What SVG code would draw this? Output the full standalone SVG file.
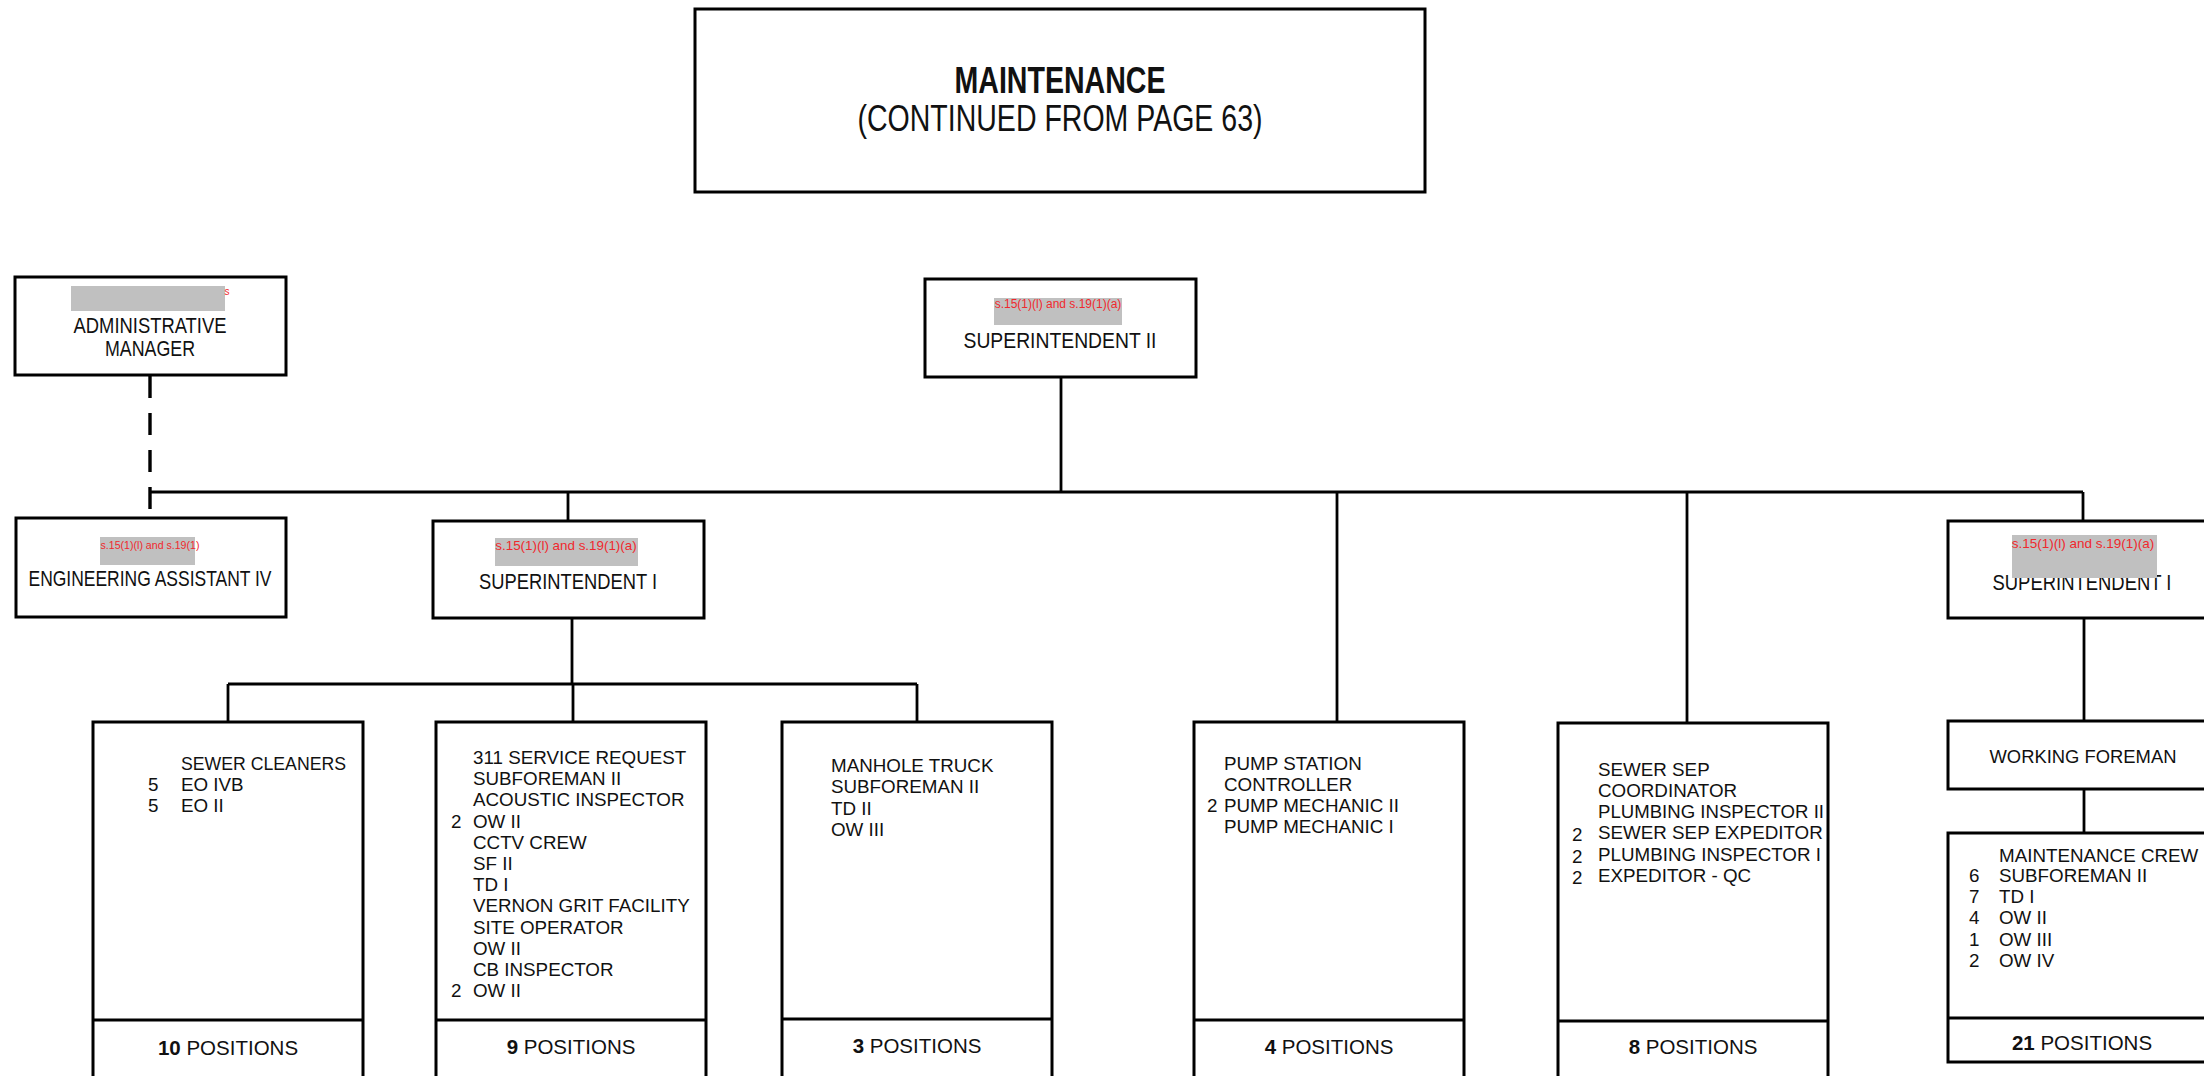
<svg xmlns="http://www.w3.org/2000/svg" width="2204" height="1076" viewBox="0 0 2204 1076">
<style>
.box{fill:#fff;stroke:#000;stroke-width:3}
.ln{fill:none;stroke:#000;stroke-width:2.8}
.dash{fill:none;stroke:#000;stroke-width:3.4;stroke-dasharray:22 15}
.div{stroke:#000;stroke-width:3}
.lbl{font-family:"Liberation Sans",Arial,sans-serif;font-size:21.5px;fill:#111;text-anchor:middle}
.ttl{font-family:"Liberation Sans",Arial,sans-serif;font-size:36px;fill:#111;text-anchor:middle}
.lst{font-family:"Liberation Sans",Arial,sans-serif;font-size:18.8px;fill:#111}
.pos{font-family:"Liberation Sans",Arial,sans-serif;font-size:20.5px;fill:#111;text-anchor:middle}
.red{font-family:"Liberation Sans",Arial,sans-serif;fill:#f0282d;text-anchor:middle}
.gry{fill:#c0c0c0}
</style>
<rect width="2204" height="1076" fill="#fff"/>

<g id="connectors">
<path class="ln" d="M1061 377 V492"/>
<path class="ln" d="M150 492 H2083"/>
<path class="dash" d="M150 376 V514"/>
<path class="ln" d="M568 492 V521"/>
<path class="ln" d="M1337 492 V722"/>
<path class="ln" d="M1687 492 V723"/>
<path class="ln" d="M2083 492 V521"/>
<path class="ln" d="M572 618 V684"/>
<path class="ln" d="M228 684 H917"/>
<path class="ln" d="M228 684 V722"/>
<path class="ln" d="M573 684 V722"/>
<path class="ln" d="M917 684 V722"/>
<path class="ln" d="M2084 618 V721"/>
<path class="ln" d="M2084 789 V833"/>
</g>

<g id="title">
<rect class="box" x="695" y="9" width="730" height="183"/>
<text class="ttl" x="1060" y="93" font-weight="bold" textLength="211" lengthAdjust="spacingAndGlyphs">MAINTENANCE</text>
<text class="ttl" x="1060" y="131" textLength="405" lengthAdjust="spacingAndGlyphs">(CONTINUED FROM PAGE 63)</text>
</g>

<g id="admin-manager">
<rect class="box" x="15" y="277" width="271" height="98"/>
<rect class="gry" x="71" y="286" width="154" height="25"/>
<text class="red" x="227" y="295" font-size="10">s</text>
<text class="lbl" x="150" y="333" textLength="153" lengthAdjust="spacingAndGlyphs">ADMINISTRATIVE</text>
<text class="lbl" x="150" y="356" textLength="90" lengthAdjust="spacingAndGlyphs">MANAGER</text>
</g>

<g id="superintendent-ii">
<rect class="box" x="925" y="279" width="271" height="98"/>
<rect class="gry" x="994" y="298" width="128" height="27"/>
<text class="red" x="1058" y="308" font-size="12">s.15(1)(l) and s.19(1)(a)</text>
<text class="lbl" x="1060" y="348" textLength="193" lengthAdjust="spacingAndGlyphs">SUPERINTENDENT II</text>
</g>

<g id="engineering-assistant">
<rect class="box" x="16" y="518" width="270" height="99"/>
<rect class="gry" x="100" y="537" width="95" height="28"/>
<text class="red" x="150" y="549" font-size="10.6">s.15(1)(l) and s.19(1)</text>
<text class="lbl" x="150" y="586" textLength="243" lengthAdjust="spacingAndGlyphs">ENGINEERING ASSISTANT IV</text>
</g>

<g id="superintendent-i-left">
<rect class="box" x="433" y="521" width="271" height="97"/>
<rect class="gry" x="495" y="538" width="143" height="28"/>
<text class="red" x="566" y="550" font-size="13.4">s.15(1)(l) and s.19(1)(a)</text>
<text class="lbl" x="568" y="589" textLength="178" lengthAdjust="spacingAndGlyphs">SUPERINTENDENT I</text>
</g>

<g id="superintendent-i-right">
<rect class="box" x="1948" y="521" width="272" height="97"/>
<text class="lbl" x="2082" y="590" textLength="179" lengthAdjust="spacingAndGlyphs">SUPERINTENDENT I</text>
<rect class="gry" x="2012" y="535" width="145" height="43"/>
<text class="red" x="2083" y="548" font-size="13.5">s.15(1)(l) and s.19(1)(a)</text>
</g>

<g id="working-foreman">
<rect class="box" x="1948" y="721" width="272" height="68"/>
<text class="lbl" x="2083" y="763" style="font-size:19px" textLength="187" lengthAdjust="spacingAndGlyphs">WORKING FOREMAN</text>
</g>

<g id="sewer-cleaners">
<rect class="box" x="93" y="722" width="270" height="360"/>
<line class="div" x1="93" y1="1020" x2="363" y2="1020"/>
<text class="lst" x="181" y="770" textLength="165" lengthAdjust="spacingAndGlyphs">SEWER CLEANERS</text>
<text class="lst" x="148" y="791">5</text><text class="lst" x="181" y="791">EO IVB</text>
<text class="lst" x="148" y="812">5</text><text class="lst" x="181" y="812">EO II</text>
<text class="pos" x="228" y="1055"><tspan font-weight="bold">10</tspan> POSITIONS</text>
</g>

<g id="service-request">
<rect class="box" x="436" y="722" width="270" height="360"/>
<line class="div" x1="436" y1="1020" x2="706" y2="1020"/>
<text class="lst" x="473" y="764">311 SERVICE REQUEST</text>
<text class="lst" x="473" y="785.2">SUBFOREMAN II</text>
<text class="lst" x="473" y="806.4">ACOUSTIC INSPECTOR</text>
<text class="lst" x="451" y="827.6">2</text><text class="lst" x="473" y="827.6">OW II</text>
<text class="lst" x="473" y="848.8">CCTV CREW</text>
<text class="lst" x="473" y="870">SF II</text>
<text class="lst" x="473" y="891.2">TD I</text>
<text class="lst" x="473" y="912.4">VERNON GRIT FACILITY</text>
<text class="lst" x="473" y="933.6">SITE OPERATOR</text>
<text class="lst" x="473" y="954.8">OW II</text>
<text class="lst" x="473" y="976">CB INSPECTOR</text>
<text class="lst" x="451" y="997.2">2</text><text class="lst" x="473" y="997.2">OW II</text>
<text class="pos" x="571" y="1054"><tspan font-weight="bold">9</tspan> POSITIONS</text>
</g>

<g id="manhole-truck">
<rect class="box" x="782" y="722" width="270" height="360"/>
<line class="div" x1="782" y1="1019" x2="1052" y2="1019"/>
<text class="lst" x="831" y="772">MANHOLE TRUCK</text>
<text class="lst" x="831" y="793.3">SUBFOREMAN II</text>
<text class="lst" x="831" y="814.6">TD II</text>
<text class="lst" x="831" y="836">OW III</text>
<text class="pos" x="917" y="1053"><tspan font-weight="bold">3</tspan> POSITIONS</text>
</g>

<g id="pump-station">
<rect class="box" x="1194" y="722" width="270" height="360"/>
<line class="div" x1="1194" y1="1020" x2="1464" y2="1020"/>
<text class="lst" x="1224" y="770">PUMP STATION</text>
<text class="lst" x="1224" y="791">CONTROLLER</text>
<text class="lst" x="1207" y="812">2</text><text class="lst" x="1224" y="812">PUMP MECHANIC II</text>
<text class="lst" x="1224" y="833">PUMP MECHANIC I</text>
<text class="pos" x="1329" y="1054"><tspan font-weight="bold">4</tspan> POSITIONS</text>
</g>

<g id="sewer-sep">
<rect class="box" x="1558" y="723" width="270" height="360"/>
<line class="div" x1="1558" y1="1021" x2="1828" y2="1021"/>
<text class="lst" x="1598" y="776">SEWER SEP</text>
<text class="lst" x="1598" y="797">COORDINATOR</text>
<text class="lst" x="1598" y="818" textLength="226" lengthAdjust="spacingAndGlyphs">PLUMBING INSPECTOR II</text>
<text class="lst" x="1572" y="841">2</text><text class="lst" x="1598" y="839">SEWER SEP EXPEDITOR</text>
<text class="lst" x="1572" y="863">2</text><text class="lst" x="1598" y="861">PLUMBING INSPECTOR I</text>
<text class="lst" x="1572" y="884">2</text><text class="lst" x="1598" y="882">EXPEDITOR - QC</text>
<text class="pos" x="1693" y="1054"><tspan font-weight="bold">8</tspan> POSITIONS</text>
</g>

<g id="maintenance-crew">
<rect class="box" x="1948" y="833" width="272" height="229"/>
<line class="div" x1="1948" y1="1018" x2="2220" y2="1018"/>
<text class="lst" x="1999" y="862">MAINTENANCE CREW</text>
<text class="lst" x="1969" y="882">6</text><text class="lst" x="1999" y="882">SUBFOREMAN II</text>
<text class="lst" x="1969" y="903">7</text><text class="lst" x="1999" y="903">TD I</text>
<text class="lst" x="1969" y="924">4</text><text class="lst" x="1999" y="924">OW II</text>
<text class="lst" x="1969" y="946">1</text><text class="lst" x="1999" y="946">OW III</text>
<text class="lst" x="1969" y="967">2</text><text class="lst" x="1999" y="967">OW IV</text>
<text class="pos" x="2082" y="1050"><tspan font-weight="bold">21</tspan> POSITIONS</text>
</g>
</svg>
